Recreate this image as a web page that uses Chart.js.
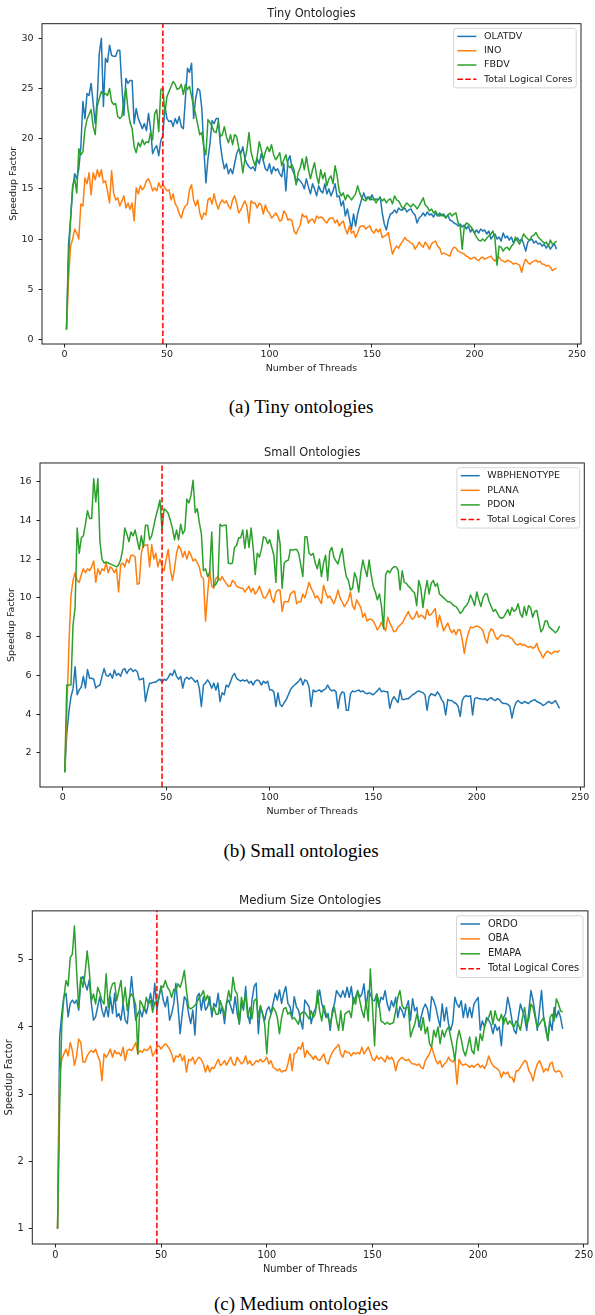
<!DOCTYPE html>
<html>
<head>
<meta charset="utf-8">
<title>Speedup vs threads</title>
<script src="https://cdn.jsdelivr.net/npm/chart.js@4.4.1/dist/chart.umd.min.js"></script>
<style>
  body { margin: 0; background: #fff; width: 595px; height: 1315px; position: relative; overflow: hidden; }
  canvas { position: absolute; left: 0; }
  .caption {
    position: absolute; left: 0; width: 602px; text-align: center;
    font-family: "Liberation Serif", "Times New Roman", serif; font-size: 19px; line-height: 1; color: #000;
  }
</style>
</head>
<body>
<canvas id="tinyChart" width="595" height="380" style="top:0px"></canvas>
<div class="caption" style="top:397px">(a) Tiny ontologies</div>
<canvas id="smallChart" width="595" height="380" style="top:440px"></canvas>
<div class="caption" style="top:841px">(b) Small ontologies</div>
<canvas id="mediumChart" width="595" height="395" style="top:888px"></canvas>
<div class="caption" style="top:1294px">(c) Medium ontologies</div>

<script>
// thread counts 1..240 (x axis)
const threads = [];
for (let t = 1; t <= 240; t++) threads.push(t);

const logicalCores = 48;
const xTicks = [0, 50, 100, 150, 200, 250];
const tinyTicks = [0, 5, 10, 15, 20, 25, 30];
const smallTicks = [2, 4, 6, 8, 10, 12, 14, 16];
const mediumTicks = [1, 2, 3, 4, 5];

// Tiny ontologies
const olatdv = [
  1, 9.5, 12, 15, 16.5, 16, 17, 19.2, 23.7, 22, 24.5, 24.3, 25.5, 23.5, 21.5, 24, 28.5, 30, 23.2, 28,
  27.6, 29.3, 28.3, 28.2, 28.2, 28.8, 28.8, 25.2, 22.3, 26, 25.5, 25.8, 25.8, 21.5, 23, 22, 21.5, 21, 21.5, 20.8,
  22.5, 21, 18.5, 19, 19.3, 18.3, 19.8, 20.3, 23.2, 22, 21.7, 21.8, 21.2, 22, 21.5, 22.2, 21.2, 21, 24, 27,
  26.6, 27.5, 22, 24, 25, 24.8, 23, 19, 15.6, 18, 19.5, 21.8, 21.5, 22, 22, 19.5, 18, 17, 17.5, 16.5,
  17, 16.5, 17.5, 18.5, 19, 18.5, 19.2, 18, 17.5, 17.2, 17, 17.2, 16.8, 18, 17.5, 18.5, 17.8, 17, 16.8, 17.5,
  16.5, 17.2, 16.8, 17, 16.5, 16.2, 17.5, 14.8, 17.8, 18.3, 17, 16.5, 15.6, 16, 15.8, 15.5, 15, 16, 15.2, 14.5,
  15.5, 15, 14.3, 15.3, 14.8, 14.6, 15.5, 14.5, 15, 14.3, 14.8, 15.5, 14.2, 14.3, 13.3, 13.8, 12.3, 13, 12, 11,
  12.5, 11.3, 12.5, 13.3, 14, 14.6, 14, 14.2, 13.9, 14.4, 13.9, 14, 13.9, 14.2, 12.6, 11.5, 10.9, 11.9, 12.5, 12.6,
  12.9, 12.6, 13.1, 12.9, 12.9, 13.1, 12.7, 12.9, 13.0, 12.6, 12.4, 11.6, 12.1, 12.3, 12.6, 12.3, 12.7, 12.4, 12.5, 12.2,
  12.6, 12.3, 12.6, 12.3, 12.5, 12.1, 12.4, 11.9, 11.8, 11.6, 11.5, 11.3, 11.5, 11.2, 11.4, 11.0, 11.3, 10.7, 11.0, 10.6,
  10.9, 10.6, 11.0, 10.8, 10.9, 10.5, 10.8, 10.0, 10.3, 10.5, 10.0, 10.2, 9.8, 10.6, 10.1, 10.3, 9.9, 10.2, 9.6, 9.9,
  10.1, 9.8, 10.0, 9.5, 8.8, 9.7, 9.9, 10.0, 9.6, 9.8, 9.5, 9.6, 9.3, 9.5, 9.1, 9.4, 9.0, 9.3, 9.5, 9.0
];
const ino = [
  1, 6, 9.3, 10, 11, 10.6, 10, 13.5, 13.3, 16.1, 15.5, 16.6, 14.4, 16.6, 15.9, 16.9, 16.2, 16.9, 15.6, 15.8,
  14.8, 13.6, 16.8, 14.6, 13.9, 14.1, 13.3, 13.8, 14.3, 13.1, 13.6, 12.96, 13.6, 11.8, 15.1, 14.5, 15.3, 14.9, 15.2, 15.8,
  16, 15.5, 14.8, 15.1, 14.8, 15.6, 15.1, 15.4, 15.1, 14.8, 14.9, 13.9, 14.5, 13.5, 13.2, 12.5, 12.1, 12.9, 13.3, 13.5,
  14.9, 15.4, 13.9, 13.3, 13.9, 12.6, 11.97, 12.6, 12.4, 13.9, 14.1, 13.5, 14.5, 13.6, 13, 13.6, 13.9, 13.6, 13.8, 13.3,
  13, 13.9, 14.3, 13.6, 12.6, 12.9, 13.4, 13.8, 13.3, 11.6, 13.8, 13.6, 13.6, 13.1, 13.6, 13.4, 12.5, 13.4, 12.8, 12.6,
  12.1, 12.3, 12.6, 12.3, 11.8, 11.9, 12.8, 12.5, 11.9, 12, 11.8, 10.8, 10.5, 11, 11.4, 12.5, 12.2, 12.3, 11.6, 11.9,
  12, 11.6, 12.3, 12.1, 12.2, 12.1, 11.8, 11.6, 12, 12.1, 12.1, 11.6, 11.9, 11.3, 11.6, 11.8, 11, 10.5, 11.3, 10.6,
  10.8, 10.15, 10.6, 11.2, 11.3, 11.3, 11, 11.2, 11.3, 10.8, 10.6, 11, 10.7, 11, 10.15, 10.3, 10.4, 10.65, 9.5, 8.5,
  9, 9.3, 9.1, 9.5, 9.8, 10.15, 9.9, 9.8, 9.6, 9.5, 9, 9.3, 9.7, 9.4, 9.2, 9.7, 9.4, 9, 9.5, 9.7,
  9.8, 9.3, 9.1, 8.5, 8.6, 8.5, 8.4, 8.3, 8.9, 9.2, 9.1, 8.8, 8.7, 8.6, 8.5, 8.3, 8.2, 8.0, 8.1, 8.2,
  8.0, 7.84, 8.1, 8.2, 8.0, 8.1, 8.2, 8.3, 8.0, 7.8, 8.1, 8.2, 7.9, 7.8, 7.7, 7.9, 7.8, 7.7, 7.5, 7.6,
  7.5, 7.4, 6.7, 7.5, 8.0, 7.7, 7.5, 7.7, 7.8, 7.9, 7.7, 7.8, 7.5, 7.5, 7.3, 7.4, 7.2, 6.85, 7.0, 7.1
];
const fbdv = [
  1, 8, 12, 15.3, 16, 14.6, 19, 18.4, 18.7, 20.9, 21.9, 22.4, 22.9, 21.2, 20.4, 23.2, 24, 24.7, 24.4, 24.5,
  24.3, 25, 23.7, 23.4, 23.5, 22.2, 22, 22.2, 23.9, 25, 22.9, 21.6, 21, 19.2, 18.6, 19.6, 19.2, 19.9, 19.4, 19.7,
  19.6, 20.6, 19.9, 22.5, 22.9, 20.7, 24.9, 25, 22.5, 24.2, 24.7, 25.2, 25.7, 25.4, 24.9, 25, 25.4, 24.4, 25.4, 24.9,
  25.2, 24.2, 23.2, 22.4, 21.4, 20.4, 20.6, 19.1, 18.4, 21.9, 21.6, 21.2, 20.7, 20.6, 21.7, 20.2, 20.4, 21.2, 20.2, 19.6,
  20.4, 19.4, 20.4, 20.2, 19.1, 18.2, 16.6, 17.9, 18.9, 20.6, 18.7, 17.9, 17.3, 18.2, 19.7, 18.9, 17.9, 18.7, 19.2, 18.7,
  19.4, 18.4, 17.9, 18.2, 18.6, 17.3, 17.9, 18.4, 17.3, 17.1, 17.4, 16.9, 15.4, 16.6, 17.1, 18.0, 16.9, 18.2, 16.9, 16.0,
  16.9, 17.6, 16.3, 15.5, 16.9, 16.0, 16.6, 15.3, 16.0, 16.3, 15.5, 17.3, 16.3, 14.8, 14.3, 14.6, 13.9, 14.4, 14.2, 13.9,
  14.2, 14.5, 15.3, 14.6, 14.1, 13.9, 13.8, 14.1, 14.2, 13.9, 14.0, 13.6, 14.0, 14.1, 13.8, 14.0, 13.6, 13.9, 14.0, 13.5,
  14.3, 13.9, 13.8, 13.4, 13.0, 13.3, 13.6, 13.4, 13.2, 13.5, 13.3, 13.0, 13.3, 13.7, 14.1, 13.4, 13.2, 12.8, 13.0, 12.6,
  12.8, 12.4, 12.3, 12.5, 12.3, 12.1, 12.4, 12.6, 12.3, 12.5, 12.6, 11.6, 11.3, 9.0, 11.2, 11.6, 11.5, 11.3, 11.0, 10.6,
  10.2, 9.9, 9.8, 10.0, 9.8, 10.1, 10.3, 10.5, 10.8, 10.0, 7.4, 9.3, 9.2, 8.8, 9.1, 9.2, 8.9, 9.3, 9.5, 10.2,
  9.8, 9.5, 10.0, 10.5, 10.2, 10.0, 9.9, 10.3, 10.4, 10.65, 10.2, 10.0, 9.8, 9.6, 9.7, 9.3, 9.9, 9.5, 9.6, 9.8
];

// Small ontologies
const wbphenotype = [
  1, 3.0, 4.1, 4.9, 5.3, 6.45, 5.0, 5.25, 5.4, 5.95, 5.35, 6.3, 5.85, 5.85, 5.8, 5.35, 5.45, 5.5, 5.95, 6.35,
  6.0, 5.95, 6.1, 5.85, 6.28, 6.0, 6.1, 5.95, 6.28, 6.35, 6.1, 6.28, 6.35, 6.2, 6.28, 6.2, 5.77, 5.8, 5.85, 4.65,
  5.2, 5.6, 5.6, 5.65, 5.65, 5.75, 5.8, 5.65, 5.8, 5.75, 5.9, 6.1, 6.0, 6.28, 5.95, 5.8, 5.95, 5.34, 5.8, 5.9,
  5.8, 5.9, 5.8, 5.65, 5.75, 5.34, 4.4, 5.5, 5.6, 5.77, 5.6, 5.34, 5.6, 5.25, 5.6, 4.65, 5.1, 5.0, 5.5, 5.4,
  5.65, 5.95, 6.1, 5.85, 5.77, 5.7, 5.77, 5.7, 5.77, 5.6, 5.7, 5.5, 5.7, 5.77, 5.7, 5.5, 5.7, 5.6, 5.7, 5.25,
  5.25, 5.15, 4.4, 5.1, 4.5, 4.4, 4.6, 4.75, 5.0, 5.25, 5.4, 5.5, 5.6, 5.7, 5.85, 5.5, 5.77, 5.7, 5.4, 4.4,
  5.25, 5.15, 5.2, 5.25, 5.15, 5.25, 5.3, 5.5, 5.3, 5.2, 5.25, 5.15, 4.3, 4.95, 5.15, 5.1, 4.2, 4.2, 5.05, 5.2,
  5.15, 5.2, 5.25, 5.15, 5.2, 5.1, 5.05, 5.1, 5.05, 5.0, 5.1, 5.2, 5.34, 5.15, 5.2, 5.15, 5.15, 4.3, 4.7, 4.9,
  4.75, 4.6, 5.25, 4.75, 4.75, 4.8, 4.8, 4.9, 5.0, 5.05, 5.15, 5.2, 5.15, 5.1, 5.0, 4.2, 4.9, 5.05, 5.0, 4.95,
  5.15, 5.0, 4.75, 4.6, 3.96, 4.75, 4.7, 4.7, 4.6, 4.55, 4.4, 3.88, 4.7, 4.9, 4.95, 4.9, 4.95, 3.96, 4.8, 4.85,
  4.8, 4.8, 4.75, 4.8, 4.7, 4.8, 4.85, 4.75, 4.7, 4.8, 4.75, 4.6, 4.55, 4.55, 4.5, 4.4, 3.8, 4.3, 4.6, 4.7,
  4.6, 4.55, 4.65, 4.6, 4.55, 4.65, 4.7, 4.75, 4.65, 4.6, 4.55, 4.45, 4.5, 4.6, 4.65, 4.55, 4.6, 4.7, 4.5, 4.3
];
const plana = [
  1, 4, 7.5, 10.1, 10.9, 11.3, 10.9, 10.8, 11.2, 11.5, 11.3, 11.5, 11.4, 11.6, 11.9, 10.8, 11.5, 11.2, 11.5, 11.4,
  11.8, 11.3, 11.6, 11.5, 11.3, 11.5, 10.3, 11.7, 11.8, 11.6, 12.0, 11.8, 12.2, 12.2, 12.1, 10.7, 10.75, 12.3, 12.75, 12.7,
  12.75, 11.6, 12.75, 12.0, 12.3, 11.6, 12.0, 11.6, 11.4, 12.0, 12.5, 11.5, 10.9, 11.5, 12.3, 12.7, 12.5, 12.1, 12.4, 12.0,
  12.4, 12.2, 11.9, 12.0, 11.8, 11.6, 11.1, 11.0, 8.8, 10.2, 11.4, 10.6, 10.5, 11.0, 11.1, 10.9, 11.1, 10.9, 10.75, 10.6,
  10.6, 10.9, 10.8, 10.6, 10.55, 10.5, 10.5, 10.3, 10.45, 10.6, 10.3, 10.5, 10.2, 10.35, 10.6, 10.3, 10.0, 10.0, 10.2, 10.45,
  9.95, 9.75, 10.3, 10.4, 10.4, 9.3, 9.8, 9.8, 9.8, 10.2, 10.3, 10.35, 9.7, 9.8, 9.8, 10.2, 10.0, 10.4, 10.8, 10.5,
  10.3, 10.0, 10.1, 9.9, 9.7, 10.65, 10.3, 10.0, 10.1, 9.9, 9.7, 10.0, 10.4, 10.0, 9.8, 9.55, 9.7, 9.9, 10.3, 9.6,
  9.4, 9.9, 9.7, 9.5, 9.0, 9.2, 8.8, 8.9, 8.9, 8.8, 8.6, 8.35, 8.5, 8.75, 8.5, 8.3, 9.0, 8.7, 8.5, 8.25,
  8.3, 8.5, 8.6, 8.7, 8.9, 9.1, 9.3, 9.0, 8.9, 9.0, 9.3, 9.0, 9.1, 9.05, 8.9, 9.4, 9.1, 9.15, 9.3, 9.45,
  8.5, 9.1, 8.7, 8.3, 8.5, 8.7, 8.4, 8.2, 8.35, 8.1, 8.35, 8.35, 7.83, 7.14, 7.8, 8.2, 8.5, 8.45, 8.5, 8.55,
  8.5, 8.45, 8.3, 7.9, 7.66, 8.2, 8.4, 8.3, 8.0, 7.85, 8.0, 8.1, 8.05, 8.0, 8.05, 7.95, 7.9, 7.75, 7.6, 7.57,
  7.65, 7.55, 7.6, 7.5, 7.45, 7.5, 7.4, 7.45, 7.65, 7.3, 7.14, 6.9, 7.1, 7.25, 7.2, 7.1, 7.2, 7.25, 7.2, 7.3
];
const pdon = [
  1, 5.5, 5.5, 5.5, 8.6, 9.5, 13.6, 12.3, 13.1, 13.2, 13.8, 14.5, 14.1, 14.1, 16.15, 14.95, 16.15, 12.9, 12, 11.8,
  11.85, 11.8, 11.75, 11.7, 11.65, 11.6, 11.7, 11.95, 12.5, 13.6, 13.3, 12.9, 13.4, 13.2, 13.5, 13, 12.5, 13.2, 12.6, 13.75,
  13.75, 13, 13.2, 13.7, 14.2, 14.6, 15.05, 13.5, 14.6, 14.5, 14.35, 14, 13.6, 13, 13.5, 13, 13.8, 13.3, 13.5, 15.1,
  14.9, 15.3, 16.07, 14.4, 14.6, 13.9, 13.3, 11.4, 11.5, 11.1, 11.3, 13.4, 10.6, 10.7, 10.9, 13.8, 13.7, 13.75, 13.75, 11.8,
  11.75, 11.8, 12.6, 12.7, 13.1, 13.1, 13.5, 12.55, 13.5, 12.6, 13.6, 12.6, 11.2, 12.3, 12.1, 12.5, 13.15, 13.1, 12.8, 13,
  12.6, 12.2, 10.8, 13.5, 12.8, 10.5, 11.8, 11.9, 11.95, 12.5, 12.45, 12.5, 12.5, 12.3, 11.7, 11.1, 13.15, 13.15, 12.3, 12.2,
  12.3, 11.8, 11.5, 12, 11.1, 11.8, 12.2, 10.9, 12.4, 12.6, 12.1, 11.9, 11.75, 12.2, 12.55, 11.7, 11.1, 10.9, 10.4, 10.5,
  11.3, 11.0, 10.3, 11.3, 11.95, 11.5, 11.1, 11.95, 11.2, 10.6, 10.3, 9.9, 10.2, 9.55, 8.4, 11.2, 11.4, 11.3, 11.5, 11.6,
  11.6, 11.45, 10.4, 11.4, 10.8, 10.75, 10.6, 10.5, 10.35, 10.25, 9.6, 10.9, 10.5, 9.5, 10.3, 10.9, 10.2, 10.75, 10.9, 10.6,
  10.75, 10.2, 10.1, 10.0, 9.9, 9.8, 9.8, 9.7, 9.6, 9.55, 9.4, 9.2, 9.3, 9.5, 9.6, 9.8, 10.15, 9.9, 9.6, 10.3,
  9.9, 9.55, 10.0, 10.2, 10.2, 9.8, 9.55, 9.3, 9.4, 9.2, 9.0, 8.95, 9.0, 9.2, 9.4, 9.1, 9.5, 9.3, 9.4, 9.7,
  9.2, 9.0, 9.55, 9.1, 9.6, 9.5, 9.0, 9.3, 9.35, 8.8, 8.25, 8.4, 8.8, 8.8, 8.5, 8.4, 8.3, 8.2, 8.3, 8.55
];

// Medium size ontologies
const ordo = [
  1, 3.85, 4.2, 4.45, 4.5, 4.15, 4.35, 4.4, 4.35, 4.4, 4.25, 4.7, 4.75, 4.65, 4.55, 4.7, 4.35, 4.1, 4.15, 4.3,
  4.45, 4.25, 4.15, 4.3, 4.15, 4.45, 4.2, 4.5, 4.15, 4.2, 4.1, 4.35, 4.1, 4.05, 4.4, 4.75, 4.4, 4.1, 4.2, 4.25,
  4.15, 4.3, 4.2, 4.35, 4.5, 4.3, 4.65, 4.25, 4.45, 4.6, 4.4, 4.3, 4.45, 4.1, 4.2, 4.35, 4.65, 4.3, 3.9, 4.2,
  4.45, 4.4, 4.2, 4.05, 4.25, 3.88, 4.45, 4.5, 4.25, 4.45, 4.25, 4.3, 4.45, 4.15, 4.35, 4.3, 4.5, 4.2, 4.3, 4.05,
  4.35, 4.4, 4.3, 4.2, 4.45, 4.2, 4.05, 4.35, 4.25, 4.6, 4.2, 4.05, 4.4, 4.6, 4.65, 3.9, 4.3, 4.2, 4.1, 4.25,
  4.3, 4.2, 4.35, 4.5, 4.4, 4.55, 4.35, 4.5, 4.6, 4.35, 4.3, 4.15, 4.45, 4.3, 4.25, 4.1, 3.97, 4.4, 4.35, 4.3,
  4.05, 4.2, 4.27, 4.38, 4.55, 4.35, 4.25, 4.14, 4.2, 3.95, 4.24, 4.34, 4.54, 4.49, 4.44, 4.54, 4.44, 4.59, 4.44, 4.6,
  4.34, 4.44, 4.54, 4.44, 4.49, 4.64, 4.29, 4.54, 4.49, 4.4, 4.39, 4.49, 4.3, 4.44, 4.41, 4.54, 4.34, 4.24, 4.39, 4.3,
  4.44, 4.14, 4.3, 4.24, 4.14, 4.29, 4.39, 4.1, 4.42, 4.24, 4.29, 4.0, 4.14, 4.27, 4.34, 4.27, 4.09, 4.45, 4.39, 4.29,
  4.14, 4.0, 4.34, 4.09, 4.29, 4.04, 3.95, 4.07, 4.44, 4.34, 4.29, 4.39, 4.14, 4.34, 4.14, 4.29, 4.14, 4.34, 4.39, 4.44,
  3.95, 4.09, 4.0, 4.14, 4.1, 4.04, 3.9, 4.04, 3.95, 4.0, 3.72, 4.14, 4.2, 4.44, 4.29, 4.1, 3.95, 3.9, 4.14, 4.34,
  4.24, 4.14, 3.95, 4.24, 4.54, 4.39, 4.19, 3.95, 4.24, 4.54, 4.14, 4.0, 3.8, 4.09, 3.95, 4.29, 4.14, 4.24, 4.14, 3.97
];
const oba = [
  1, 3.3, 3.52, 3.6, 3.67, 3.57, 3.77, 3.65, 3.43, 3.57, 3.82, 3.77, 3.48, 3.48, 3.57, 3.62, 3.65, 3.62, 3.67, 3.57,
  3.5, 3.2, 3.6, 3.55, 3.6, 3.67, 3.55, 3.65, 3.6, 3.62, 3.57, 3.7, 3.5, 3.65, 3.67, 3.65, 3.7, 3.77, 3.6, 3.65,
  3.62, 3.67, 3.65, 3.67, 3.72, 3.57, 3.62, 3.7, 3.72, 3.67, 3.72, 3.75, 3.72, 3.67, 3.6, 3.48, 3.57, 3.55, 3.6, 3.5,
  3.57, 3.33, 3.52, 3.5, 3.55, 3.45, 3.52, 3.55, 3.52, 3.45, 3.33, 3.43, 3.33, 3.4, 3.38, 3.45, 3.52, 3.43, 3.45, 3.5,
  3.43, 3.5, 3.55, 3.45, 3.43, 3.55, 3.5, 3.45, 3.48, 3.57, 3.45, 3.5, 3.43, 3.45, 3.5, 3.48, 3.52, 3.48, 3.5, 3.55,
  3.45, 3.5, 3.4, 3.38, 3.35, 3.38, 3.33, 3.35, 3.35, 3.45, 3.6, 3.35, 3.6, 3.62, 3.7, 3.67, 3.77, 3.55, 3.65, 3.6,
  3.57, 3.52, 3.57, 3.52, 3.5, 3.55, 3.6, 3.48, 3.45, 3.55, 3.62, 3.67, 3.7, 3.74, 3.6, 3.55, 3.65, 3.62, 3.62, 3.57,
  3.62, 3.6, 3.62, 3.6, 3.7, 3.6, 3.65, 3.7, 3.62, 3.52, 3.5, 3.57, 3.52, 3.55, 3.52, 3.48, 3.57, 3.52, 3.55, 3.5,
  3.35, 3.48, 3.52, 3.55, 3.52, 3.5, 3.52, 3.48, 3.45, 3.45, 3.43, 3.45, 3.4, 3.38, 3.5, 3.55, 3.6, 3.7, 3.6, 3.5,
  3.45, 3.5, 3.4, 3.45, 3.48, 3.55, 3.5, 3.48, 3.52, 3.15, 3.52, 3.45, 3.43, 3.45, 3.43, 3.4, 3.43, 3.4, 3.43, 3.45,
  3.4, 3.43, 3.38, 3.45, 3.57, 3.48, 3.43, 3.4, 3.38, 3.35, 3.25, 3.33, 3.3, 3.33, 3.25, 3.25, 3.18, 3.35, 3.35, 3.4,
  3.45, 3.5, 3.48, 3.35, 3.3, 3.2, 3.35, 3.45, 3.5, 3.43, 3.33, 3.38, 3.35, 3.45, 3.48, 3.35, 3.33, 3.35, 3.33, 3.25
];
const emapa = [
  1, 2.8, 4.04, 4.44, 4.69, 4.61, 5.03, 5.08, 5.5, 4.84, 4.29, 4.74, 4.59, 4.79, 5.13, 4.84, 4.39, 4.49, 4.34, 4.59,
  4.51, 4.39, 4.34, 4.79, 4.29, 4.54, 4.64, 4.66, 4.39, 4.54, 4.69, 4.34, 4.59, 4.24, 4.44, 4.49, 4.44, 4.32, 3.6, 4.39,
  4.34, 4.24, 4.44, 4.34, 4.39, 4.22, 4.37, 4.32, 4.44, 4.61, 4.59, 4.69, 4.59, 4.54, 4.44, 4.56, 4.54, 4.64, 4.59, 4.69,
  4.84, 4.54, 4.29, 4.27, 4.29, 4.32, 4.37, 4.44, 4.47, 4.54, 4.39, 4.47, 4.34, 4.24, 4.29, 4.19, 4.19, 4.39, 4.29, 4.17,
  4.37, 4.54, 4.39, 4.74, 4.54, 4.49, 4.04, 4.44, 4.29, 4.49, 4.14, 4.29, 4.12, 4.39, 4.42, 4.14, 4.32, 4.19, 4.04, 3.6,
  4.09, 4.19, 4.29, 4.24, 4.14, 3.9, 4.14, 4.27, 4.29, 4.19, 4.22, 4.12, 4.14, 4.09, 4.04, 4.19, 4.22, 4.22, 4.17, 4.12,
  4.24, 4.14, 4.2, 4.54, 4.24, 4.09, 4.32, 4.2, 4.14, 4.04, 4.19, 4.29, 4.1, 3.95, 4.24, 3.95, 4.19, 4.22, 4.24, 4.14,
  4.44, 4.34, 4.54, 4.39, 4.24, 4.14, 4.39, 4.09, 4.86, 4.3, 3.72, 4.49, 4.39, 4.09, 4.07, 4.04, 4.07, 4.04, 4.05, 4.07,
  4.24, 4.44, 4.54, 4.32, 4.27, 4.29, 4.29, 3.85, 3.95, 4.04, 4.19, 4.09, 3.95, 4.14, 3.9, 4.0, 3.75, 3.7, 3.95, 3.85,
  4.0, 3.75, 3.95, 3.85, 3.95, 4.0, 3.85, 3.7, 3.5, 3.8, 3.95, 3.82, 3.65, 3.57, 3.7, 3.85, 3.65, 3.6, 3.85, 3.65,
  3.9, 3.8, 4.0, 4.09, 4.14, 4.24, 4.04, 4.24, 4.12, 4.09, 4.19, 4.04, 4.14, 4.04, 4.09, 4.04, 4.0, 4.09, 4.04, 3.95,
  4.14, 4.29, 4.04, 4.12, 4.34, 4.29, 4.14, 4.0, 4.04, 4.09, 4.14, 3.95, 3.8, 4.14, 4.19, 4.09, 4.42, 4.34, 4.24, 4.22
];

const tabBlue = '#1f77b4', tabOrange = '#ff7f0e', tabGreen = '#2ca02c';
const ink = '#222';

Chart.defaults.font.family = '"DejaVu Sans", sans-serif';
Chart.defaults.color = ink;

// axes frame (all four spines) and an inside-the-axes legend, matplotlib style
const frameLegend = {
  id: 'frameLegend',
  afterDatasetsDraw(chart) {
    const a = chart.chartArea, ctx = chart.ctx;
    ctx.save();
    ctx.strokeStyle = ink;
    ctx.lineWidth = 1;
    ctx.strokeRect(a.left, a.top, a.right - a.left, a.bottom - a.top);
    ctx.restore();
  },
  afterDraw(chart, args, opts) {
    const a = chart.chartArea, ctx = chart.ctx;
    const fs = opts.fontSize;
    const sets = chart.data.datasets;
    ctx.save();
    ctx.font = fs + 'px "DejaVu Sans"';
    const textW = Math.max(...sets.map(d => ctx.measureText(d.label).width));
    const pad = 0.4 * fs, handle = 2 * fs, gap = 0.8 * fs;
    const w = pad * 2 + handle + gap + textW;
    const h = 0.84 * fs + opts.rowGap * (sets.length - 1) + 0.9 * fs;
    const x0 = a.right - 0.5 * fs - w;
    const y0 = a.top + 0.5 * fs;

    ctx.beginPath();
    ctx.roundRect(x0, y0, w, h, 2.5);
    ctx.fillStyle = 'rgba(255,255,255,0.8)';
    ctx.fill();
    ctx.strokeStyle = '#d6d6d6';
    ctx.lineWidth = 1;
    ctx.stroke();

    sets.forEach((d, i) => {
      const cy = y0 + 0.84 * fs + i * opts.rowGap;
      ctx.beginPath();
      ctx.setLineDash(d.borderDash || []);
      ctx.strokeStyle = d.borderColor;
      ctx.lineWidth = d.borderWidth;
      ctx.moveTo(x0 + pad, cy);
      ctx.lineTo(x0 + pad + handle, cy);
      ctx.stroke();
      ctx.setLineDash([]);
      ctx.fillStyle = ink;
      ctx.textBaseline = 'middle';
      ctx.fillText(d.label, x0 + pad + handle + gap, cy);
    });
    ctx.restore();
  }
};

function buildPanel(canvasId, p) {
  const datasets = p.series.map((s, i) => ({
    label: s.name,
    data: threads.map((t, k) => ({ x: t, y: s.values[k] })),
    borderColor: s.color,
    borderWidth: 1.5,
    borderJoinStyle: 'round',
    pointRadius: 0,
    order: 10 - i
  }));
  datasets.push({
    label: 'Total Logical Cores',
    data: [{ x: logicalCores, y: p.yMin }, { x: logicalCores, y: p.yMax }],
    borderColor: '#ff0000',
    borderWidth: 1.5,
    borderDash: [5.5, 2.4],
    pointRadius: 0,
    order: 0
  });

  const tickGrid = { drawOnChartArea: false, drawTicks: true, tickLength: 3.5, color: ink, tickColor: ink, lineWidth: 1 };

  return new Chart(document.getElementById(canvasId), {
    type: 'line',
    data: { datasets: datasets },
    options: {
      responsive: false,
      animation: false,
      events: [],
      devicePixelRatio: 1,
      layout: { padding: { left: 0, right: p.padRight, top: 0, bottom: 0 } },
      plugins: {
        legend: { display: false },
        tooltip: { enabled: false },
        title: {
          display: true, text: p.title, fullSize: false, color: ink,
          font: { size: p.titleSize, weight: 'normal' },
          padding: { top: p.titleTop, bottom: p.titleBottom }
        },
        frameLegend: { fontSize: p.fs, rowGap: p.rowGap }
      },
      scales: {
        x: {
          type: 'linear', min: -10.95, max: 251.95,
          afterBuildTicks: s => { s.ticks = xTicks.map(v => ({ value: v })); },
          afterFit: s => { s.height = p.xAxisHeight; },
          ticks: { autoSkip: false, maxRotation: 0, padding: 1.8, color: ink, font: { size: p.fs } },
          grid: tickGrid,
          border: { display: false },
          title: { display: true, text: 'Number of Threads', color: ink, font: { size: p.fs }, padding: { top: 0, bottom: p.xTitleBottom } }
        },
        y: {
          type: 'linear', min: p.yMin, max: p.yMax,
          afterBuildTicks: s => { s.ticks = p.yTicks.map(v => ({ value: v })); },
          afterFit: s => { s.width = p.yAxisWidth; },
          ticks: { padding: 5, color: ink, font: { size: p.fs } },
          grid: tickGrid,
          border: { display: false },
          title: { display: true, text: 'Speedup Factor', color: ink, font: { size: p.fs }, padding: { top: p.yTitleLeft, bottom: 0 } }
        }
      }
    },
    plugins: [frameLegend]
  });
}

buildPanel('tinyChart', {
  title: 'Tiny Ontologies',
  series: [
    { name: 'OLATDV', values: olatdv, color: tabBlue },
    { name: 'INO', values: ino, color: tabOrange },
    { name: 'FBDV', values: fbdv, color: tabGreen }
  ],
  yMin: -0.45, yMax: 31.45, yTicks: tinyTicks,
  fs: 9.5, titleSize: 11.4, rowGap: 14.3,
  titleTop: 6.8, titleBottom: 3.2,
  yAxisWidth: 42, xAxisHeight: 36, padRight: 14,
  xTitleBottom: 5.3, yTitleLeft: 7.6
});

buildPanel('smallChart', {
  title: 'Small Ontologies',
  series: [
    { name: 'WBPHENOTYPE', values: wbphenotype, color: tabBlue },
    { name: 'PLANA', values: plana, color: tabOrange },
    { name: 'PDON', values: pdon, color: tabGreen }
  ],
  yMin: 0.24, yMax: 16.96, yTicks: smallTicks,
  fs: 9.5, titleSize: 11.4, rowGap: 14.6,
  titleTop: 6.2, titleBottom: 3.1,
  yAxisWidth: 40, xAxisHeight: 33, padRight: 10.7,
  xTitleBottom: 2.6, yTitleLeft: 6
});

buildPanel('mediumChart', {
  title: 'Medium Size Ontologies',
  series: [
    { name: 'ORDO', values: ordo, color: tabBlue },
    { name: 'OBA', values: oba, color: tabOrange },
    { name: 'EMAPA', values: emapa, color: tabGreen }
  ],
  yMin: 0.775, yMax: 5.725, yTicks: mediumTicks,
  fs: 9.8, titleSize: 11.8, rowGap: 14.9,
  titleTop: 5.6, titleBottom: 3.1,
  yAxisWidth: 32.3, xAxisHeight: 39, padRight: 4,
  xTitleBottom: 8.1, yTitleLeft: 3.4
});
</script>
</body>
</html>
